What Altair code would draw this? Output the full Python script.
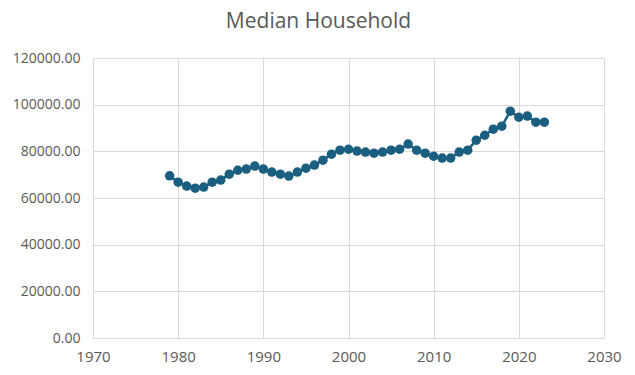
import altair as alt
import pandas as pd

years = list(range(1979, 2024))
values = [69500, 66800, 65100, 64200, 64700, 66800, 67700, 70200, 71900, 72400,
          73700, 72400, 71100, 70200, 69400, 71100, 72800, 74100, 76200, 78800,
          80500, 80900, 80100, 79700, 79200, 79700, 80500, 80900, 83100, 80500,
          79200, 77900, 77100, 77100, 79700, 80500, 84800, 86900, 89500, 90800,
          97200, 94600, 95100, 92500, 92500]

df = pd.DataFrame({"year": years, "value": values})
color = "#1a5e80"
font = "Open Sans"

base = alt.Chart(df).encode(
    x=alt.X("year:Q", scale=alt.Scale(domain=[1970, 2030], nice=False),
            axis=alt.Axis(values=list(range(1970, 2031, 10)), format="d", title=None,
                          domain=False, ticks=False, labelPadding=11, grid=True,
                          labelFlush=False, labelFontSize=15)),
    y=alt.Y("value:Q", scale=alt.Scale(domain=[0, 120000], nice=False),
            axis=alt.Axis(values=list(range(0, 120001, 20000)), format=".2f", title=None,
                          domain=False, ticks=False, labelPadding=13, grid=True,
                          labelFlush=False, labelFontSize=14)),
)

line = base.mark_line(color=color, strokeWidth=2.5)
pts = base.mark_circle(color=color, size=90, opacity=1)

chart = (line + pts).properties(
    width=511, height=280,
    title=alt.TitleParams("Median Household", fontSize=21, font=font, color="#595959",
                          fontWeight="normal", anchor="middle", offset=19, dx=-30),
    autosize=alt.AutoSizeParams(type="none"),
    padding={"left": 93, "top": 58, "right": 31, "bottom": 37},
).configure_axis(
    labelFont=font, labelColor="#595959",
    gridColor="#d9d9d9", gridWidth=1,
).configure_view(stroke=None)

chart.save("out.html", embed_options={"renderer": "svg", "actions": False})
